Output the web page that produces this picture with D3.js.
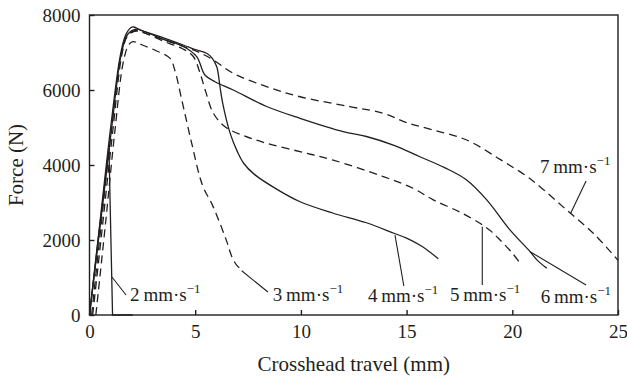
<!DOCTYPE html>
<html>
<head>
<meta charset="utf-8">
<script src="https://cdn.jsdelivr.net/npm/d3@7"></script>
<style>
  html, body { margin: 0; padding: 0; background: #fff; }
  svg { display: block; }
  text { font-family: "Liberation Serif", "Times New Roman", serif; fill: #231f20; }
</style>
</head>
<body>
<svg id="chart" width="627" height="381"></svg>
<script>
// Force–travel curves, [crosshead travel (mm), force (N)]
const rate2 = [[0,0],[0.45,2200],[0.92,4450],[1.09,0],[2.05,0]];
const rate3 = [[0.3,0],[0.75,2400],[1.2,4900],[1.6,6750],[1.85,7200],[2.05,7290],[2.5,7200],[3.1,7060],[3.8,6850],[4.05,6500],[4.36,5750],[4.83,4590],[5.35,3450],[5.8,2950],[6.17,2445],[6.5,1950],[6.73,1560],[6.96,1330],[7.15,1230]];
const rate4 = [[0,0],[0.5,2500],[1.0,5000],[1.45,6900],[1.7,7450],[1.95,7660],[2.1,7680],[2.4,7600],[2.86,7510],[3.6,7370],[4.44,7200],[5.0,7080],[5.54,6980],[5.8,6850],[6.02,6620],[6.17,6100],[6.3,5650],[6.65,4850],[7.0,4350],[7.3,4040],[7.8,3750],[8.93,3330],[9.96,3020],[11.5,2720],[13.1,2460],[14.4,2180],[15.0,2050],[15.7,1840],[16.1,1680],[16.5,1500]];
const rate5 = [[0.15,0],[0.6,2300],[1.1,4900],[1.55,7000],[1.8,7450],[2.15,7580],[2.6,7520],[3.5,7300],[4.4,7100],[4.9,6900],[5.23,6450],[5.5,5950],[5.86,5380],[6.41,5020],[7.3,4780],[8.38,4580],[10,4350],[11.53,4130],[13.9,3690],[15.3,3380],[16.26,3070],[17.5,2750],[18.47,2445],[19.0,2230],[19.42,2000],[20.0,1650],[20.44,1330]];
const rate6 = [[0,0],[0.55,2600],[1.05,5000],[1.5,6950],[1.8,7480],[2.2,7620],[2.6,7560],[3.5,7350],[4.44,7160],[5.07,6890],[5.46,6400],[5.94,6220],[6.8,6000],[8.38,5560],[9.96,5245],[12.0,4890],[13.1,4760],[14.37,4530],[15.63,4220],[16.8,3930],[17.84,3600],[18.79,3070],[19.89,2270],[20.84,1690],[21.2,1450],[21.63,1250]];
const rate7 = [[0.1,0],[0.55,2400],[1.05,5000],[1.5,6950],[1.8,7450],[2.25,7580],[2.7,7500],[3.6,7320],[4.5,7150],[5.2,7000],[5.86,6800],[6.8,6445],[8.38,6090],[9.96,5820],[12.32,5556],[13.9,5378],[15.0,5130],[16.26,4933],[17.84,4667],[19.42,4150],[20.68,3700],[21.31,3422],[22.57,2800],[23.83,2180],[25,1460]];

const seriesNames = ["2", "3", "4", "5", "6", "7"];
const seriesData = [rate2, rate3, rate4, rate5, rate6, rate7];
const seriesDashed = [false, true, false, true, false, true];

// Label anchors [text x, text y] and leader lines [from x, from y, to x, to y] in data units
const labelAt = [[1.92,370],[8.67,380],[13.17,355],[17.05,373],[21.34,320],[21.31,3795]];
const leaderAt = [[1.05,1020,1.73,533],[7.2,1180,8.44,613],[14.45,2133,14.87,773],[18.58,2355,18.58,800],[20.84,1689,23.49,800],[22.76,2711,23.49,3573]];

const xTicks = [0, 5, 10, 15, 20, 25];
const yTicks = [0, 2000, 4000, 6000, 8000];

const svg = d3.select("#chart");
const x = d3.scaleLinear().domain([0, 25]).range([89.5, 618]);
const y = d3.scaleLinear().domain([0, 8000]).range([315, 15]);

const ink = "#231f20";

// axes with inward ticks
const gx = svg.append("g").attr("transform", `translate(0,${y(0)})`)
  .call(d3.axisBottom(x).tickValues(xTicks).tickSize(-5).tickPadding(10).tickFormat(d3.format("d")));
const gy = svg.append("g").attr("transform", `translate(${x(0)},0)`)
  .call(d3.axisLeft(y).tickValues(yTicks).tickSize(-5).tickPadding(9).tickFormat(d3.format("d")));
[gx, gy].forEach(g => {
  g.select(".domain").remove();
  g.selectAll(".tick line").attr("stroke", ink).attr("stroke-width", 1.4);
  g.selectAll(".tick text").attr("font-size", 19).attr("fill", ink)
    .style("font-family", '"Liberation Serif", serif');
});

// frame
svg.append("rect")
  .attr("x", x(0)).attr("y", y(8000))
  .attr("width", x(25) - x(0)).attr("height", y(0) - y(8000))
  .attr("fill", "none").attr("stroke", ink).attr("stroke-width", 1.4);

// curves
const line = d3.line().x(d => x(d[0])).y(d => y(d[1]));
seriesData.forEach((data, i) => {
  svg.append("path")
    .datum(data)
    .attr("d", line.curve(i === 0 ? d3.curveLinear : d3.curveCatmullRom.alpha(0.5)))
    .attr("fill", "none")
    .attr("stroke", ink)
    .attr("stroke-width", 1.3)
    .attr("stroke-dasharray", seriesDashed[i] ? "8,5" : null);
});

// leader lines and labels
leaderAt.forEach(l => {
  svg.append("line")
    .attr("x1", x(l[0])).attr("y1", y(l[1]))
    .attr("x2", x(l[2])).attr("y2", y(l[3]))
    .attr("stroke", ink).attr("stroke-width", 1.1);
});
seriesNames.forEach((n, i) => {
  const t = svg.append("text")
    .attr("x", x(labelAt[i][0])).attr("y", y(labelAt[i][1]))
    .attr("font-size", 19);
  t.append("tspan").text(n + "\u2009mm\u00b7s");
  t.append("tspan").attr("font-size", 13).attr("dy", -8).text("\u22121");
});

// axis titles
svg.append("text")
  .attr("x", (x(0) + x(25)) / 2).attr("y", 371)
  .attr("text-anchor", "middle").attr("font-size", 21)
  .text("Crosshead travel (mm)");
svg.append("text")
  .attr("transform", `translate(23,${y(4000)}) rotate(-90)`)
  .attr("text-anchor", "middle").attr("font-size", 21)
  .text("Force (N)");
</script>
</body>
</html>
